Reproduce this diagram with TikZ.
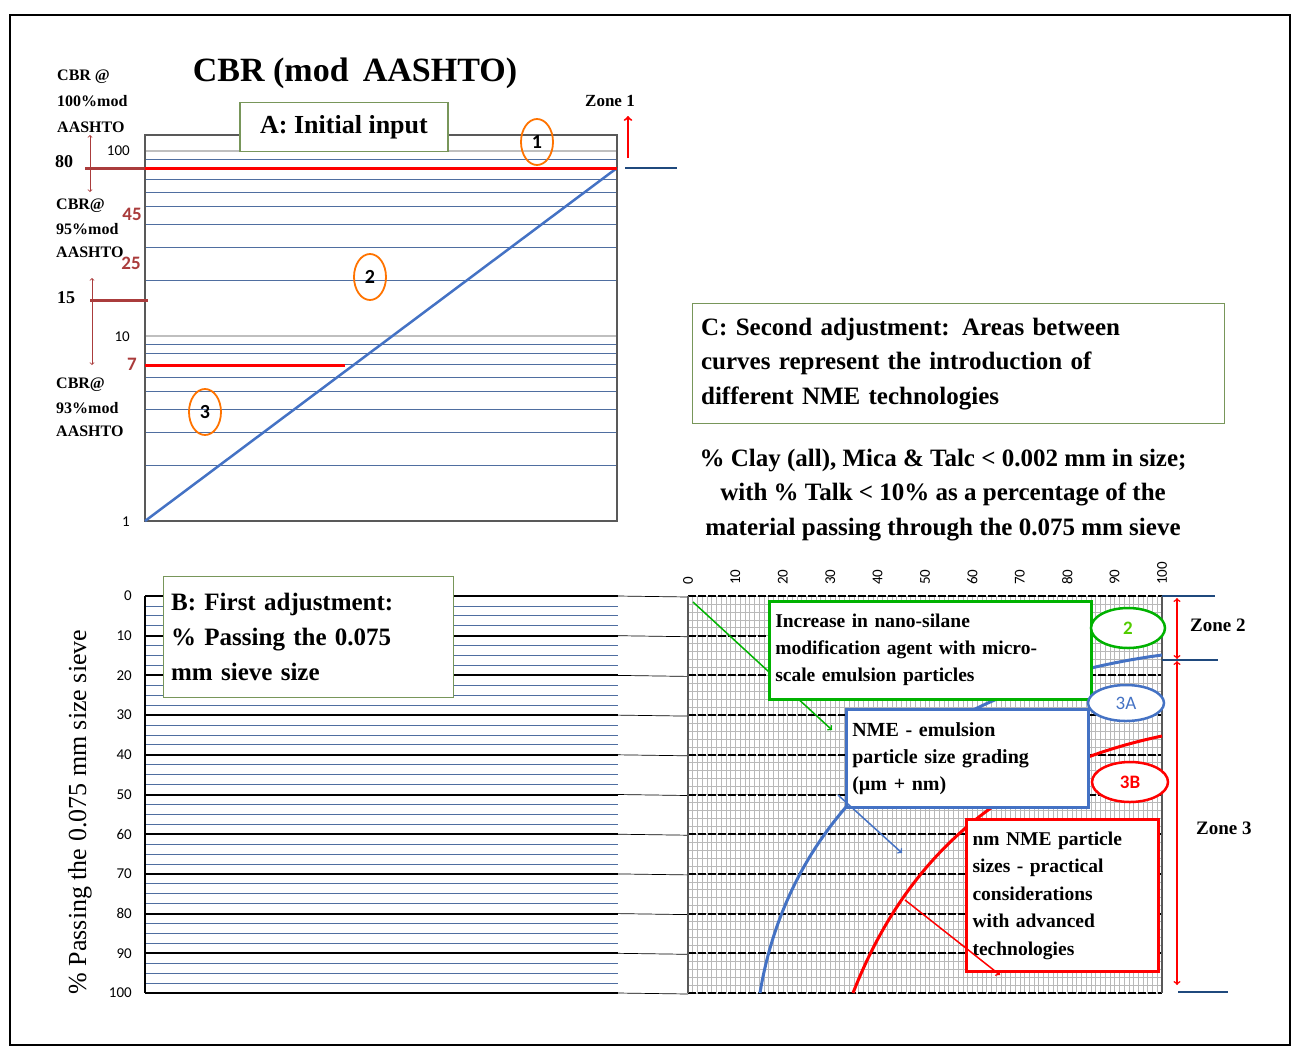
\documentclass[tikz,border=0pt]{standalone}
\usepackage{fontspec}
\setmainfont{Liberation Serif}
\newfontfamily\numf{Carlito}
\usetikzlibrary{shapes.geometric}
\definecolor{steel}{RGB}{68,114,196}
\definecolor{gridblue}{RGB}{79,110,160}
\definecolor{darkred}{RGB}{170,60,60}
\definecolor{navy}{RGB}{31,73,125}
\definecolor{gbord}{RGB}{120,150,90}
\begin{document}
\begin{tikzpicture}[x=1pt,y=-1pt,
  lbl/.style={font=\bfseries\fontsize{16}{18}\selectfont,anchor=west,inner sep=0},
  num/.style={font=\numf\fontsize{15}{18}\selectfont,inner sep=0},
  boxtxt/.style={draw,fill=white,line width=2pt,align=left,inner sep=6pt,font=\bfseries},
  oval/.style={draw=orange!90!red,ellipse,line width=1.8pt,minimum width=32pt,minimum height=46pt,font=\numf\bfseries\fontsize{20}{22}\selectfont},
  zl/.style={draw=navy,line width=2.5pt}]
\useasboundingbox (0,0) rectangle (1303,1058);
\draw[line width=2.5pt] (10,15) rectangle (1290,1045);
% ---- top chart
\foreach \v in {2,3,4,5,6,7,8,9,20,30,40,50,60,70,80,90}
  \draw[gridblue,line width=1pt] (145,{521-ln(\v)/ln(10)*185}) -- (617,{521-ln(\v)/ln(10)*185});
\draw[gray!50,line width=1.5pt] (145,151) -- (617,151);
\draw[gray!50,line width=1.5pt] (145,336) -- (617,336);
\draw[gray!70!black,line width=1.2pt] (145,135) rectangle (617,521);
\draw[steel,line width=2.5pt] (145,521) -- (617,168);
\draw[darkred,line width=3pt] (85,168) -- (145,168);
\draw[red,line width=3pt] (145,168) -- (617,168);
\draw[red,line width=3pt] (145,365) -- (345,365);
\draw[darkred,line width=3pt] (90,300) -- (148,300);
\draw[darkred,<->,line width=0.8pt] (90,135) -- (90,192);
\draw[darkred,<->,line width=0.8pt] (92,278) -- (92,365);
\node[num,anchor=east] (t100) at (130,151) {100};
\node[num,anchor=east] (t10) at (130,337) {10};
\node[num,anchor=east] (t1) at (130,522) {1};
\node[lbl,font=\bfseries\fontsize{18}{20}\selectfont] (l80) at (55,162) {80};
\node[lbl,font=\bfseries\fontsize{18}{20}\selectfont] (l15) at (57,298) {15};
\node[num,text=darkred,font=\numf\bfseries\fontsize{19}{20}\selectfont] (l45) at (132,214) {45};
\node[num,text=darkred,font=\numf\bfseries\fontsize{19}{20}\selectfont] (l25) at (131,263) {25};
\node[num,text=darkred,font=\numf\bfseries\fontsize{19}{20}\selectfont] (l7) at (132,364) {7};
\node[lbl] (c1) at (57,77) {CBR @}; \node[lbl] (c2) at (57,101) {100\%mod}; \node[lbl] (c3) at (57,127) {AASHTO};
\node[lbl] (d1) at (56,206) {CBR@}; \node[lbl] (d2) at (56,229) {95\%mod}; \node[lbl] (d3) at (56,252) {AASHTO};
\node[lbl] (e1) at (56,385) {CBR@}; \node[lbl] (e2) at (56,408) {93\%mod}; \node[lbl] (e3) at (56,431) {AASHTO};
\node[font=\bfseries\fontsize{34}{38}\selectfont] (title) at (355,73) {CBR (mod\, AASHTO)};
\node[draw=gbord,fill=white,line width=1.2pt,minimum width=208pt,minimum height=49pt,font=\bfseries\fontsize{26}{28}\selectfont] (A) at (344,127) {A: Initial input};
\node[oval] (o1) at (537,142) {1};
\node[oval] (o2) at (370,277) {2};
\node[oval] (o3) at (205,412) {3};
\node[lbl,font=\bfseries\fontsize{17}{18}\selectfont] (z1) at (585,101) {Zone 1};
\draw[red,->,line width=2pt] (628,158) -- (628,116);
\draw[zl] (625,168) -- (677,168);
% ---- C box and caption
\node[draw=gbord,line width=1.2pt,minimum width=532pt,minimum height=120pt,text width=515pt,align=left,font=\bfseries\fontsize{25}{34.5}\selectfont,anchor=north west] (C) at (692,303) {C: Second adjustment: Areas between\\curves represent the introduction of\\different NME technologies};
\node[align=center,font=\bfseries\fontsize{25}{34.5}\selectfont] (cap) at (943,495) {\% Clay (all), Mica \& Talc < 0.002 mm in size;\\with \% Talk < 10\% as a percentage of the\\material passing through the 0.075 mm sieve};
% ---- bottom left chart
\foreach \i in {0,...,40}
  \draw[gridblue,line width=0.8pt] (145,{596+\i*9.925}) -- (618,{596+\i*9.925});
\foreach \v in {0,10,...,100}{
  \draw[black,line width=2pt] (145,{596+\v*3.97}) -- (618,{596+\v*3.97});
  \draw[black,line width=0.7pt] (618,{596+\v*3.97}) -- (688,{597+\v*3.97});
  \node[num,anchor=east] at (132,{596+\v*3.97}) {\v};
}
\draw[black,line width=1.2pt] (145,596) -- (145,993);
\node[rotate=90,font=\fontsize{26}{28}\selectfont] (ylab) at (80,812) {\% Passing the 0.075 mm size sieve};
\node[draw=gbord,fill=white,line width=1.2pt,minimum width=290pt,minimum height=121pt,text width=275pt,align=left,font=\bfseries\fontsize{25}{35}\selectfont,anchor=north west] (B) at (163,576) {B: First adjustment:\\\% Passing the 0.075\\mm sieve size};
% ---- bottom right grid
\foreach \i in {0,...,100}
  \draw[gray!55,line width=0.6pt] ({688+\i*4.74},596) -- ({688+\i*4.74},993);
\foreach \i in {0,...,50}
  \draw[gray!55,line width=0.6pt] (688,{596+\i*7.94}) -- (1162,{596+\i*7.94});
\foreach \v in {0,10,...,100}{
  \draw[black,line width=2pt,dash pattern=on 8pt off 2pt] (688,{596+\v*3.97}) -- (1162,{596+\v*3.97});
  \node[num,rotate=90,anchor=west] at ({688+\v*4.74},585) {\v};
}
\draw[gray!70!black,line width=1.2pt] (688,596) -- (688,993);
\draw[gray!70!black,line width=1.2pt] (1162,596) -- (1162,993);
\draw[steel,line width=3pt] (760,993) .. controls (785,840) and (900,690) .. (1162,655);
\draw[red,line width=3pt] (853,993) .. controls (905,860) and (1000,770) .. (1162,736);
\coordinate (g0) at (693,602); \coordinate (g1) at (832,730);
\coordinate (b0) at (838,795); \coordinate (b1) at (902,853);
\coordinate (r0) at (905,900); \coordinate (r1) at (1000,975);
\draw[green!70!black,->,line width=1.5pt] (g0) -- (g1);
\node[boxtxt,draw=green!70!black,line width=2.5pt,minimum width=320pt,minimum height=98pt,text width=310pt,anchor=north west,font=\bfseries\fontsize{19.5}{27}\selectfont] (G) at (768,600) {Increase in nano-silane\\modification agent with micro-\\scale emulsion particles};
\node[boxtxt,draw=steel,line width=2.5pt,minimum width=242pt,minimum height=98pt,text width=230pt,anchor=north west,font=\bfseries\fontsize{20}{27}\selectfont] (Bl) at (845,708) {NME - emulsion\\particle size grading\\(µm + nm)};
\draw[steel,->,line width=1.5pt] (b0) -- (b1);
\node[boxtxt,draw=red,line width=3pt,minimum width=192pt,minimum height=152pt,text width=180pt,anchor=north west,font=\bfseries\fontsize{19.5}{27.5}\selectfont] (R) at (965,818) {nm NME particle\\sizes - practical\\considerations\\with advanced\\technologies};
\draw[red,->,line width=1.5pt] (r0) -- (r1);
\node[draw=green!70!black,line width=2.5pt,fill=white,ellipse,minimum width=74pt,minimum height=40pt,text=green!60!yellow!80!black,font=\numf\bfseries\fontsize{19}{20}\selectfont] (o2b) at (1128,628) {2};
\node[draw=steel,line width=2.5pt,fill=white,ellipse,minimum width=76pt,minimum height=36pt,text=steel,font=\numf\fontsize{19}{20}\selectfont] (o3a) at (1126,703) {3A};
\node[draw=red,line width=2.5pt,fill=white,ellipse,minimum width=76pt,minimum height=40pt,text=red,font=\numf\bfseries\fontsize{19}{20}\selectfont] (o3b) at (1130,782) {3B};
% zones
\draw[zl] (1162,596) -- (1215,596);
\draw[zl] (1162,660) -- (1218,660);
\draw[zl] (1178,992) -- (1228,992);
\draw[red,<->,line width=1.5pt] (1177,598) -- (1177,659);
\draw[red,<->,line width=1.5pt] (1177,661) -- (1177,985);
\node[lbl,font=\bfseries\fontsize{19}{20}\selectfont] (z2) at (1190,625) {Zone 2};
\node[lbl,font=\bfseries\fontsize{19}{20}\selectfont] (z3) at (1196,828) {Zone 3};
\end{tikzpicture}
\end{document}
